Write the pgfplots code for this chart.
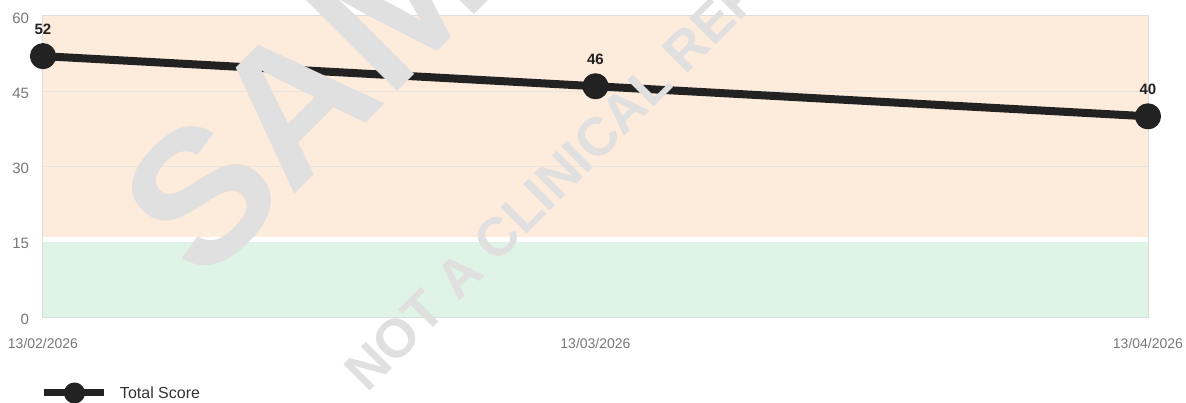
\documentclass[border=0pt]{standalone}
\usepackage{pgfplots}
\pgfplotsset{compat=1.18}
\usepackage{fontspec}
\setmainfont{Liberation Sans}
\definecolor{lineC}{HTML}{222222}
\definecolor{bandO}{HTML}{FDEBDC}
\definecolor{bandG}{HTML}{DFF3E6}
\definecolor{frameC}{HTML}{DDDDDD}
\definecolor{gridC}{HTML}{EAE4E0}
\definecolor{tickC}{HTML}{777777}
\definecolor{wmC}{HTML}{E0E0E0}
\begin{document}
\begin{tikzpicture}
\useasboundingbox (0pt,0pt) rectangle (1186pt,403pt);
\begin{axis}[
  at={(43pt,86pt)}, anchor=south west,
  scale only axis, width=1105pt, height=301pt,
  xmin=0, xmax=2, ymin=0, ymax=60,
  clip=false,
  xtick={0,1,2},
  xticklabels={13/02/2026,13/03/2026,13/04/2026},
  ytick={0,15,30,45,60},
  major tick length=0pt,
  axis line style={draw=frameC, line width=1.6pt},
  /pgf/number format/assume math mode=true,
  yticklabel style={font=\fontsize{15pt}{18pt}\selectfont, text=tickC, xshift=-10.5pt, yshift=-2pt},
  xticklabel style={font=\fontsize{14pt}{17pt}\selectfont, text=tickC, yshift=-18pt},
  legend style={at={(0,-0.2525)}, anchor=west, xshift=-3pt, draw=none, fill=none,
    inner sep=0pt, outer sep=0pt, column sep=13pt,
    nodes={inner sep=0pt, font=\fontsize{16pt}{19pt}\selectfont, text=black!80}},
]
\addplot[fill=bandO, draw=none, forget plot] coordinates {(0,60) (2,60)} \closedcycle;
\addplot[fill=white, draw=none, forget plot] coordinates {(0,16) (2,16)} \closedcycle;
\addplot[fill=bandG, draw=none, forget plot] coordinates {(0,15) (2,15)} \closedcycle;
\addplot[color=gridC, line width=1pt, forget plot] coordinates {(0,30) (2,30)};
\addplot[color=gridC, line width=1pt, forget plot] coordinates {(0,45) (2,45)};
\addplot[color=lineC, line width=8pt, line join=round,
  mark=*, mark size=9pt, mark options={fill=lineC, draw=none},
  nodes near coords,
  every node near coord/.append style={anchor=base, yshift=22pt,
    font=\fontsize{15pt}{18pt}\selectfont\bfseries, text=lineC, inner sep=0pt},
  legend image code/.code={
    \draw[line width=7pt, color=lineC, line cap=butt] (0pt,0pt) -- (60pt,0pt);
    \fill[lineC] (31pt,0pt) circle (6.5pt);}
] coordinates {(0,52) (1,46) (2,40)};
\addlegendentry{Total Score}
\end{axis}
\node[text=wmC, rotate=45, anchor=base, inner sep=0pt,
  font=\fontsize{190pt}{200pt}\selectfont\bfseries] at (482pt,396pt) {SAMPLE};
\node[text=wmC, rotate=45, anchor=base, inner sep=0pt,
  font=\fontsize{54pt}{60pt}\selectfont\bfseries] at (606pt,248pt) {NOT A CLINICAL REPORT};
\end{tikzpicture}
\end{document}
